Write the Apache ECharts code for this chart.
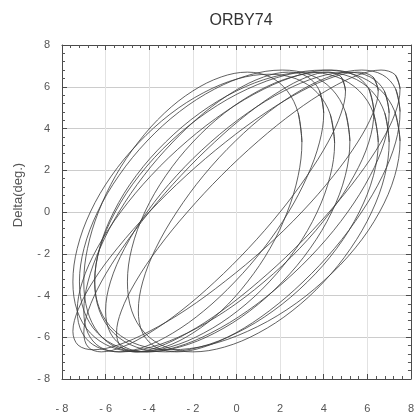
<!DOCTYPE html>
<html><head><meta charset="utf-8">
<script src="https://cdn.jsdelivr.net/npm/echarts@6/dist/echarts.min.js"></script>
<style>html,body{margin:0;padding:0;background:#fff}#c{width:417px;height:418px}</style>
</head><body><div id="c"></div>
<script>
const titleText = 'ORBY74';
const yName = 'Delta(deg.)';
const axisTicks = [-8, -6, -4, -2, 0, 2, 4, 6, 8];

// traced loops of the orbit (x values and delta values)
const loopAx = [3, 2.83, 2.33, 1.54, 0.5, -0.7, -2, -3.3, -4.5, -5.54, -6.33, -6.83, -7, -6.83, -6.33, -5.54, -4.5, -3.3, -2, -0.7, 0.5, 1.54, 2.33, 2.83];
const loopAy = [3.35, 4.74, 5.8, 6.47, 6.7, 6.47, 5.8, 4.74, 3.35, 1.74, 0, -1.74, -3.35, -4.74, -5.8, -6.47, -6.7, -6.47, -5.8, -4.74, -3.35, -1.74, 0, 1.74];
const loopBx = [4.5, 4.3, 3.7, 2.74, 1.5, 0.05, -1.5, -3.05, -4.5, -5.74, -6.7, -7.3, -7.5, -7.3, -6.7, -5.74, -4.5, -3.05, -1.5, 0.05, 1.5, 2.74, 3.7, 4.3];
const loopBy = [3.3, 4.68, 5.72, 6.38, 6.6, 6.38, 5.72, 4.68, 3.3, 1.72, 0, -1.74, -3.35, -4.74, -5.8, -6.47, -6.7, -6.47, -5.8, -4.74, -3.35, -1.74, 0, 1.74];
const loopCx = [4, 3.81, 3.26, 2.39, 1.25, -0.08, -1.5, -2.92, -4.25, -5.39, -6.26, -6.81, -7, -6.81, -6.26, -5.39, -4.25, -2.92, -1.5, -0.08, 1.25, 2.39, 3.26, 3.81];
const loopCy = [4.74, 5.8, 6.47, 6.7, 6.47, 5.8, 4.74, 3.35, 1.74, 0, -1.74, -3.35, -4.74, -5.8, -6.47, -6.7, -6.47, -5.8, -4.74, -3.35, -1.74, 0, 1.74, 3.35];
const loopDx = [5.2, 4.99, 4.37, 3.38, 2.1, 0.61, -1, -2.61, -4.1, -5.38, -6.37, -6.99, -7.2, -6.99, -6.37, -5.38, -4.1, -2.61, -1, 0.61, 2.1, 3.38, 4.37, 4.99];
const loopDy = [3.4, 4.81, 5.89, 6.57, 6.8, 6.57, 5.89, 4.81, 3.4, 1.76, 0, -1.74, -3.35, -4.74, -5.8, -6.47, -6.7, -6.47, -5.8, -4.74, -3.35, -1.74, 0, 1.74];
const loopEx = [5, 4.8, 4.2, 3.24, 2, 0.55, -1, -2.55, -4, -5.24, -6.2, -6.8, -7, -6.8, -6.2, -5.24, -4, -2.55, -1, 0.55, 2, 3.24, 4.2, 4.8];
const loopEy = [5.8, 6.47, 6.7, 6.47, 5.8, 4.74, 3.35, 1.74, 0, -1.74, -3.35, -4.74, -5.8, -6.47, -6.7, -6.47, -5.8, -4.74, -3.35, -1.74, 0, 1.74, 3.35, 4.74];
const loopFx = [6.3, 6.07, 5.39, 4.31, 2.9, 1.26, -0.5, -2.26, -3.9, -5.31, -6.39, -7.07, -7.3, -7.07, -6.39, -5.31, -3.9, -2.26, -0.5, 1.26, 2.9, 4.31, 5.39, 6.07];
const loopFy = [4.81, 5.89, 6.57, 6.8, 6.57, 5.89, 4.81, 3.4, 1.76, 0, -1.74, -3.35, -4.74, -5.8, -6.47, -6.7, -6.47, -5.8, -4.74, -3.35, -1.74, 0, 1.74, 3.35];
const loopGx = [6.5, 6.26, 5.56, 4.45, 3, 1.31, -0.5, -2.31, -4, -5.45, -6.56, -7.26, -7.5, -7.26, -6.56, -5.45, -4, -2.31, -0.5, 1.31, 3, 4.45, 5.56, 6.26];
const loopGy = [5.8, 6.47, 6.7, 6.47, 5.8, 4.74, 3.35, 1.74, 0, -1.72, -3.3, -4.68, -5.72, -6.38, -6.6, -6.38, -5.72, -4.68, -3.3, -1.72, 0, 1.74, 3.35, 4.74];
const loopHx = [6.5, 6.28, 5.63, 4.6, 3.25, 1.68, 0, -1.68, -3.25, -4.6, -5.63, -6.28, -6.5, -6.28, -5.63, -4.6, -3.25, -1.68, 0, 1.68, 3.25, 4.6, 5.63, 6.28];
const loopHy = [3.35, 4.74, 5.8, 6.47, 6.7, 6.47, 5.8, 4.74, 3.35, 1.74, 0, -1.74, -3.35, -4.74, -5.8, -6.47, -6.7, -6.47, -5.8, -4.74, -3.35, -1.74, 0, 1.74];
const loopIx = [7, 6.78, 6.13, 5.1, 3.75, 2.18, 0.5, -1.18, -2.75, -4.1, -5.13, -5.78, -6, -5.78, -5.13, -4.1, -2.75, -1.18, 0.5, 2.18, 3.75, 5.1, 6.13, 6.78];
const loopIy = [4.74, 5.8, 6.47, 6.7, 6.47, 5.8, 4.74, 3.35, 1.74, 0, -1.74, -3.35, -4.74, -5.8, -6.47, -6.7, -6.47, -5.8, -4.74, -3.35, -1.74, 0, 1.74, 3.35];
const loopJx = [7.5, 7.26, 6.56, 5.45, 4, 2.31, 0.5, -1.31, -3, -4.45, -5.56, -6.26, -6.5, -6.26, -5.56, -4.45, -3, -1.31, 0.5, 2.31, 4, 5.45, 6.56, 7.26];
const loopJy = [3.4, 4.81, 5.89, 6.57, 6.8, 6.57, 5.89, 4.81, 3.4, 1.76, 0, -1.72, -3.3, -4.68, -5.72, -6.38, -6.6, -6.38, -5.72, -4.68, -3.3, -1.72, 0, 1.74];
const loopKx = [7.5, 7.28, 6.63, 5.6, 4.25, 2.68, 1, -0.68, -2.25, -3.6, -4.63, -5.28, -5.5, -5.28, -4.63, -3.6, -2.25, -0.68, 1, 2.68, 4.25, 5.6, 6.63, 7.28];
const loopKy = [5.89, 6.57, 6.8, 6.57, 5.89, 4.81, 3.4, 1.76, 0, -1.74, -3.35, -4.74, -5.8, -6.47, -6.7, -6.47, -5.8, -4.74, -3.35, -1.74, 0, 1.74, 3.35, 4.74];
const loopLx = [7, 6.8, 6.2, 5.24, 4, 2.55, 1, -0.55, -2, -3.24, -4.2, -4.8, -5, -4.8, -4.2, -3.24, -2, -0.55, 1, 2.55, 4, 5.24, 6.2, 6.8];
const loopLy = [3.35, 4.74, 5.8, 6.47, 6.7, 6.47, 5.8, 4.74, 3.35, 1.74, 0, -1.74, -3.35, -4.74, -5.8, -6.47, -6.7, -6.47, -5.8, -4.74, -3.35, -1.74, 0, 1.74];
const loopMx = [7.5, 7.3, 6.7, 5.74, 4.5, 3.05, 1.5, -0.05, -1.5, -2.74, -3.7, -4.3, -4.5, -4.3, -3.7, -2.74, -1.5, -0.05, 1.5, 3.05, 4.5, 5.74, 6.7, 7.3];
const loopMy = [4.81, 5.89, 6.57, 6.8, 6.57, 5.89, 4.81, 3.4, 1.76, 0, -1.74, -3.35, -4.74, -5.8, -6.47, -6.7, -6.47, -5.8, -4.74, -3.35, -1.74, 0, 1.74, 3.35];

const loopXs = [loopAx, loopBx, loopCx, loopDx, loopEx, loopFx, loopGx, loopHx, loopIx, loopJx, loopKx, loopLx, loopMx];
const loopYs = [loopAy, loopBy, loopCy, loopDy, loopEy, loopFy, loopGy, loopHy, loopIy, loopJy, loopKy, loopLy, loopMy];
const trace = [];
loopXs.forEach((xs, k) => {
  xs.forEach((x, i) => trace.push([x, loopYs[k][i]]));
  trace.push([xs[0], loopYs[k][0]], [xs[1], loopYs[k][1]]);
  trace.push(['-', '-']);
});

const fmt = v => (v < 0 ? '- ' + Math.abs(v) : String(v));
const font = 'Liberation Sans, Arial, sans-serif';

function axisBase(show) {
  return {
    type: 'value', min: axisTicks[0], max: axisTicks[axisTicks.length - 1], interval: 2,
    axisLine: { show: true, onZero: false, lineStyle: { color: '#4a4a4a', width: 1 } },
    axisTick: { show: true, inside: true, length: 5, lineStyle: { color: '#4a4a4a' } },
    minorTick: { show: true, splitNumber: 5, length: 3, lineStyle: { color: '#555' } },
    axisLabel: { show: show, color: '#555', fontSize: 11, fontFamily: font, formatter: fmt },
    splitLine: { show: false }
  };
}

const chart = echarts.init(document.getElementById('c'), null, { renderer: 'canvas' });
const xMain = axisBase(true);
xMain.position = 'bottom';
xMain.axisLabel.margin = 24;
xMain.splitLine = { show: true, lineStyle: { color: '#e2e2e2', width: 1 } };
const xTop = axisBase(false); xTop.position = 'top';
const yMain = axisBase(true);
yMain.position = 'left';
yMain.axisLabel.margin = 12;
yMain.splitLine = { show: true, lineStyle: { color: '#cccccc', width: 1 } };
yMain.name = yName;
yMain.nameLocation = 'middle';
yMain.nameGap = 37;
yMain.nameTextStyle = { fontSize: 13, color: '#555', fontFamily: font, padding: [0, 0, 0, 34] };
const yRight = axisBase(false); yRight.position = 'right';

chart.setOption({
  animation: false,
  backgroundColor: '#fff',
  title: {
    text: titleText, left: 236, top: 8, textAlign: 'center',
    textStyle: { fontSize: 16, fontWeight: 'normal', color: '#333', fontFamily: font }
  },
  grid: { left: 62, right: 6, top: 45, bottom: 39, containLabel: false },
  xAxis: [xMain, xTop],
  yAxis: [yMain, yRight],
  series: [{
    type: 'line', data: trace, xAxisIndex: 0, yAxisIndex: 0, connectNulls: false,
    smooth: 0.35, showSymbol: false, symbol: 'none',
    lineStyle: { color: '#3a3a3a', width: 0.8 }
  }]
});
</script></body></html>
